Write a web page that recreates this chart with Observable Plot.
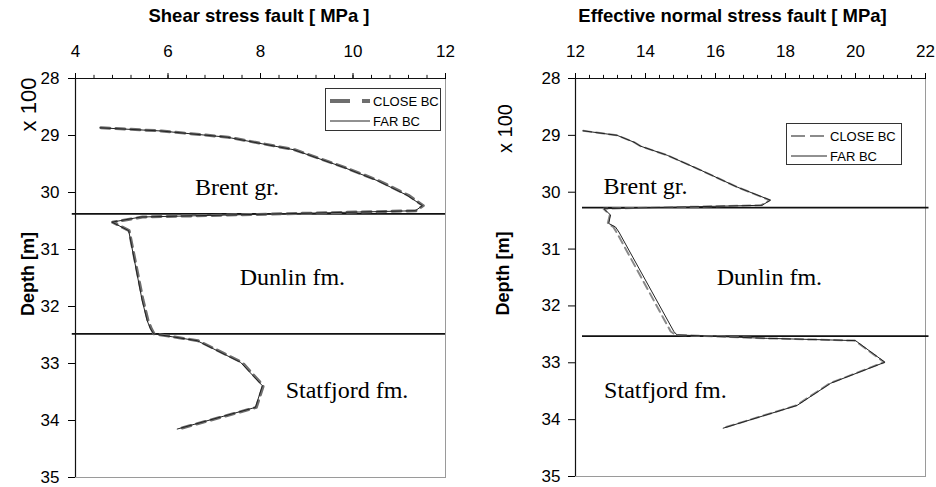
<!DOCTYPE html>
<html><head><meta charset="utf-8">
<script src="https://cdn.jsdelivr.net/npm/d3@7"></script>
<script src="https://cdn.jsdelivr.net/npm/@observablehq/plot@0.6"></script>
<style>
body{margin:0;background:#fff;}
#wrap{position:relative;width:936px;height:487px;overflow:hidden;font-family:"Liberation Sans",Arial,sans-serif;}
#left,#right{position:absolute;top:0;}
#left{left:0;} #right{left:470px;}
.legend{position:absolute;border:1px solid #333;background:#fff;box-sizing:border-box;}
.legend svg{display:block;}
</style></head><body><div id="wrap"><div id="left"></div><div id="right"></div>
<div class="legend" id="legL" style="left:325px;top:88px;width:116px;height:43px;"></div>
<div class="legend" id="legR" style="left:786px;top:123px;width:116px;height:42px;"></div>
</div>
<script>
// ---- data ----
const depthShear = [28.865, 28.92, 29.03, 29.25, 29.56, 29.79, 30.05, 30.23, 30.32, 30.43, 30.52, 30.67, 31.89, 32.25, 32.39, 32.48, 32.60, 32.98, 33.39, 33.77, 34.15];
const shearClose = [4.55, 5.86, 7.30, 8.74, 9.82, 10.55, 11.20, 11.52, 11.36, 5.45, 4.80, 5.16, 5.46, 5.57, 5.64, 5.70, 6.65, 7.60, 8.06, 7.91, 6.22];
const shearFar   = [4.53, 5.84, 7.28, 8.72, 9.80, 10.52, 11.17, 11.50, 11.35, 5.41, 4.79, 5.15, 5.44, 5.55, 5.62, 5.69, 6.63, 7.57, 8.04, 7.89, 6.20];

const depthNormal = [28.92, 29.00, 29.12, 29.19, 29.35, 29.61, 29.91, 30.14, 30.23, 30.29, 30.40, 30.55, 30.61, 30.70, 32.45, 32.51, 32.57, 32.61, 32.99, 33.36, 33.75, 34.15];
const normalClose = [12.22, 13.19, 13.67, 13.86, 14.62, 15.57, 16.62, 17.55, 17.30, 12.80, 12.98, 12.92, 13.08, 13.17, 14.72, 14.86, 17.45, 19.98, 20.82, 19.27, 18.31, 16.20];
const normalFar   = [12.22, 13.19, 13.67, 13.86, 14.62, 15.57, 16.62, 17.57, 17.33, 12.81, 13.00, 12.95, 13.14, 13.24, 14.81, 14.90, 17.48, 20.00, 20.84, 19.29, 18.33, 16.22];

const boundariesShear = [30.375, 32.48];
const boundariesNormal = [30.27, 32.53];

const formationNames = ["Brent gr.", "Dunlin fm.", "Statfjord fm."];
const formationShearX = [7.49, 8.69, 9.87];
const formationShearY = [30.04, 31.63, 33.61];
const formationNormalX = [14.0, 17.54, 14.57];
const formationNormalY = [30.04, 31.63, 33.62];

const xTicksShear = [4, 6, 8, 10, 12];
const xTicksNormal = [12, 14, 16, 18, 20, 22];
const yTicks = [28, 29, 30, 31, 32, 33, 34, 35];
const seriesNames = ["CLOSE BC", "FAR BC"];
const titles = ["Shear stress fault [ MPa ]", "Effective normal stress fault [ MPa]"];
const yLabel = "Depth [m]";
const yMultiplier = "x 100";

// ---- build ----
function rows(depth, close, far){ return depth.map((d,i)=>({depth:d, close:close[i], far:far[i]})); }
function labels(xs, ys){ return formationNames.map((t,i)=>({text:t, x:xs[i], y:ys[i]})); }
function minor(a,b){ const out=[]; for(let k=0;k<=Math.round((b-a)/0.4);k++) out.push(+(a+k*0.4).toFixed(2)); return out; }

function chart(o){
  return Plot.plot({
    width:o.width, height:487, marginLeft:o.ml, marginRight:o.mr, marginTop:78, marginBottom:o.mb,
    style:{fontFamily:"'Liberation Sans', Arial, sans-serif", fontSize:"17px", background:"transparent", color:"#000", overflow:"visible"},
    x:{domain:o.xdom},
    y:{domain:[28,35], reverse:true},
    marks:[
      Plot.frame({stroke:"#9a9a9a"}),
      Plot.ruleX(minor(o.xdom[0], o.xdom[1]), {x:d=>d, y1:28, y2:27.945, stroke:"#111", strokeWidth:1}),
      Plot.axisX(o.xticks, {anchor:"top", tickSize:6, tickPadding:16, label:null, tickFormat:d=>String(d)}),
      Plot.axisY(yTicks, {anchor:"left", tickSize:7, tickPadding:o.typ, label:null, tickFormat:d=>String(d)}),
      Plot.ruleX([o.xdom[0]], {stroke:"#111", strokeWidth:1.2}),
      Plot.ruleY([28], {stroke:"#111", strokeWidth:1.2}),
      Plot.ruleY(o.bounds, {x1:o.bx1, x2:o.bx2, stroke:"#111", strokeWidth:1.8}),
      Plot.line(o.rows, {x:"close", y:"depth", stroke:o.closeColor, strokeWidth:o.closeW, strokeDasharray:o.dash}),
      Plot.line(o.rows, {x:"far", y:"depth", stroke:"#222", strokeWidth:1}),
      Plot.text(o.labels, {x:"x", y:"y", text:"text", fontFamily:"'Liberation Serif', 'Times New Roman', serif", fontSize:24, lineAnchor:"bottom", fill:"#000"}),
      Plot.text([o.title], {frameAnchor:"top", dx:o.tdx, dy:-62, text:d=>d, fontWeight:"bold", fontSize:18.5, lineAnchor:"middle"}),
      Plot.text([yLabel], {frameAnchor:"left", dx:o.ldx, dy:-4, text:d=>d, rotate:-90, fontWeight:"bold", fontSize:18, textAnchor:"middle", lineAnchor:"middle"}),
      Plot.text([yMultiplier], {frameAnchor:"top-left", dx:o.mdx, dy:o.mdy, text:d=>d, rotate:-90, fontSize:o.mfs, textAnchor:"middle", lineAnchor:"middle"})
    ]
  });
}

document.getElementById("left").append(chart({
  width:470, ml:75, mr:25, mb:10, xdom:[4,12], xticks:xTicksShear, typ:9,
  bounds:boundariesShear, bx1:3.93, bx2:12,
  rows:rows(depthShear, shearClose, shearFar), closeColor:"#6e6e6e", closeW:3, dash:"9,6",
  labels:labels(formationShearX, formationShearY), title:titles[0], tdx:-1.5,
  ldx:-47, mdx:-47, mdy:26, mfs:22
}));
document.getElementById("right").append(chart({
  width:466, ml:105, mr:11, mb:11, xdom:[12,22], xticks:xTicksNormal, typ:8,
  bounds:boundariesNormal, bx1:12.2, bx2:22.1,
  rows:rows(depthNormal, normalClose, normalFar), closeColor:"#8a8a8a", closeW:2, dash:"8,5",
  labels:labels(formationNormalX, formationNormalY), title:titles[1], tdx:-18,
  ldx:-72, mdx:-70, mdy:50, mfs:20
}));

// legends
function legend(id, closeDash, closeW, closeColor, lineEnd){
  const ns="http://www.w3.org/2000/svg";
  const svg=document.createElementNS(ns,"svg");
  svg.setAttribute("width",114); svg.setAttribute("height",41);
  const items=[{y:12, dash:closeDash, w:closeW, c:closeColor},{y:32, dash:null, w:1, c:"#222"}];
  items.forEach((it,i)=>{
    const l=document.createElementNS(ns,"line");
    l.setAttribute("x1",4); l.setAttribute("x2",lineEnd); l.setAttribute("y1",it.y); l.setAttribute("y2",it.y);
    l.setAttribute("stroke",it.c); l.setAttribute("stroke-width",it.w);
    if(it.dash) l.setAttribute("stroke-dasharray",it.dash);
    svg.append(l);
    const t=document.createElementNS(ns,"text");
    t.setAttribute("x",lineEnd+3); t.setAttribute("y",it.y); t.setAttribute("dy","0.36em");
    t.setAttribute("font-size","13"); t.setAttribute("font-family","'Liberation Sans', Arial, sans-serif");
    t.textContent=seriesNames[i];
    svg.append(t);
  });
  document.getElementById(id).append(svg);
}
legend("legL","20,12",4,"#6e6e6e",44);
legend("legR","14,5",1.5,"#666",40);
</script>
</body></html>
